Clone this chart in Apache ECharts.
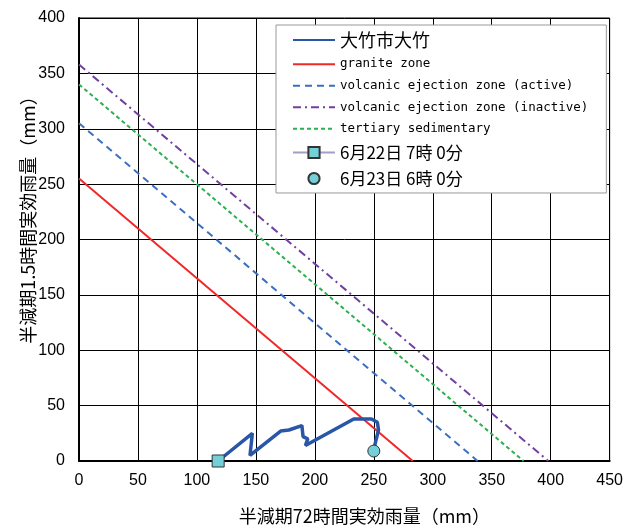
<!DOCTYPE html>
<html><head><meta charset="utf-8">
<script src="https://cdn.jsdelivr.net/npm/echarts@6/dist/echarts.min.js"></script>
<style>html,body{margin:0;padding:0;background:#fff}#c{width:626px;height:530px}</style>
</head><body><div id="c"></div>
<script>
// Data (x: 72h effective rainfall, y: 1.5h effective rainfall)
const stationName = '大竹市大竹';
const stationX = [118, 147, 145, 171, 178, 189, 190, 194, 192, 233, 248, 253, 254, 251, 250];
const stationY = [0, 25, 5, 27, 28, 32, 22, 20, 14, 38, 38, 35, 28, 15, 9];
const graniteLine = [[0, 255], [283, 0]];
const volcanicActiveLine = [[0, 305], [338, 0]];
const volcanicInactiveLine = [[0, 358], [398, 0]];
const tertiaryLine = [[0, 340], [377, 0]];
const startPoint = [[118, 0]];
const endPoint = [[250, 9]];
const startLabel = '6月22日 7時 0分';
const endLabel = '6月23日 6時 0分';
const xTicks = [0, 50, 100, 150, 200, 250, 300, 350, 400, 450];
const yTicks = [0, 50, 100, 150, 200, 250, 300, 350, 400];

const jp = '"Noto Sans CJK JP", "Noto Sans", sans-serif';
const mono = '"DejaVu Sans Mono", "Noto Sans CJK JP", monospace';
const num = '"Liberation Sans", Arial, sans-serif';
const chart = echarts.init(document.getElementById('c'));
const stationData = stationX.map((x, i) => [x, stationY[i]]);
const hideSym = { opacity: 0 };
chart.setOption({
  animation: false,
  textStyle: { fontFamily: jp },
  grid: { left: 79, right: 15, top: 18, bottom: 68, show: true, borderColor: '#000', borderWidth: 1 },
  xAxis: {
    type: 'value', min: 0, max: 450, interval: 50,
    name: '半減期72時間実効雨量（mm）', nameLocation: 'middle', nameGap: 46,
    nameTextStyle: { fontSize: 18, color: '#000', fontFamily: jp, padding: [0, 0, 0, 40] },
    axisLine: { show: true, onZero: false, lineStyle: { color: '#000', width: 2 } },
    axisTick: { show: false },
    axisLabel: { fontSize: 16, color: '#000', margin: 12, fontFamily: num },
    splitLine: { show: true, lineStyle: { color: '#000', width: 1 } }
  },
  yAxis: {
    type: 'value', min: 0, max: 400, interval: 50,
    name: '半減期1.5時間実効雨量（mm）', nameLocation: 'middle', nameGap: 42, nameRotate: 90,
    nameMoveOverlap: false,
    nameTextStyle: { fontSize: 18, color: '#000', fontFamily: jp, padding: [0, 0, 0, 48] },
    axisLine: { show: true, onZero: false, lineStyle: { color: '#000', width: 2 } },
    axisTick: { show: false },
    axisLabel: { fontSize: 16, color: '#000', margin: 14, fontFamily: num },
    splitLine: { show: true, lineStyle: { color: '#000', width: 1 } }
  },
  legend: {
    orient: 'vertical', left: 276, top: 25,
    backgroundColor: '#fff', borderColor: '#999', borderWidth: 1,
    padding: [6, 18, 6, 16], itemGap: 9, itemWidth: 42, itemHeight: 14,
    textStyle: { fontSize: 12.5, color: '#000', fontFamily: mono },
    data: [
      { name: stationName, itemStyle: hideSym, textStyle: { fontSize: 18, fontFamily: jp } },
      { name: 'granite zone', itemStyle: hideSym },
      { name: 'volcanic ejection zone (active)', itemStyle: hideSym },
      { name: 'volcanic ejection zone (inactive)', itemStyle: hideSym },
      { name: 'tertiary sedimentary', itemStyle: hideSym },
      { name: startLabel, textStyle: { fontSize: 17, fontFamily: jp } },
      { name: endLabel, textStyle: { fontSize: 17, fontFamily: jp } }
    ]
  },
  series: [
    { name: stationName, type: 'line', data: stationData, symbol: 'none', z: 5,
      lineStyle: { color: '#2a56a8', width: 3.5 }, itemStyle: { color: '#2a56a8' } },
    { name: 'granite zone', type: 'line', data: graniteLine, symbol: 'none',
      lineStyle: { color: '#f02828', width: 2 }, itemStyle: { color: '#f02828' } },
    { name: 'volcanic ejection zone (active)', type: 'line', data: volcanicActiveLine, symbol: 'none',
      lineStyle: { color: '#3a6fc0', width: 2, type: [7, 5] }, itemStyle: { color: '#3a6fc0' } },
    { name: 'volcanic ejection zone (inactive)', type: 'line', data: volcanicInactiveLine, symbol: 'none',
      lineStyle: { color: '#7040a0', width: 2, type: [8, 4, 2, 4] }, itemStyle: { color: '#7040a0' } },
    { name: 'tertiary sedimentary', type: 'line', data: tertiaryLine, symbol: 'none',
      lineStyle: { color: '#2eb04e', width: 2, type: [4, 3] }, itemStyle: { color: '#2eb04e' } },
    { name: startLabel, type: 'line', data: startPoint, symbol: 'rect', symbolSize: 12, z: 6,
      lineStyle: { color: '#a89cc8', width: 4 },
      itemStyle: { color: '#74d0d8', borderColor: '#333', borderWidth: 1 } },
    { name: endLabel, type: 'line', data: endPoint, symbol: 'circle', symbolSize: 12, z: 6,
      lineStyle: { width: 0, opacity: 0 },
      itemStyle: { color: '#74d0d8', borderColor: '#333', borderWidth: 1 } }
  ]
});
</script></body></html>
